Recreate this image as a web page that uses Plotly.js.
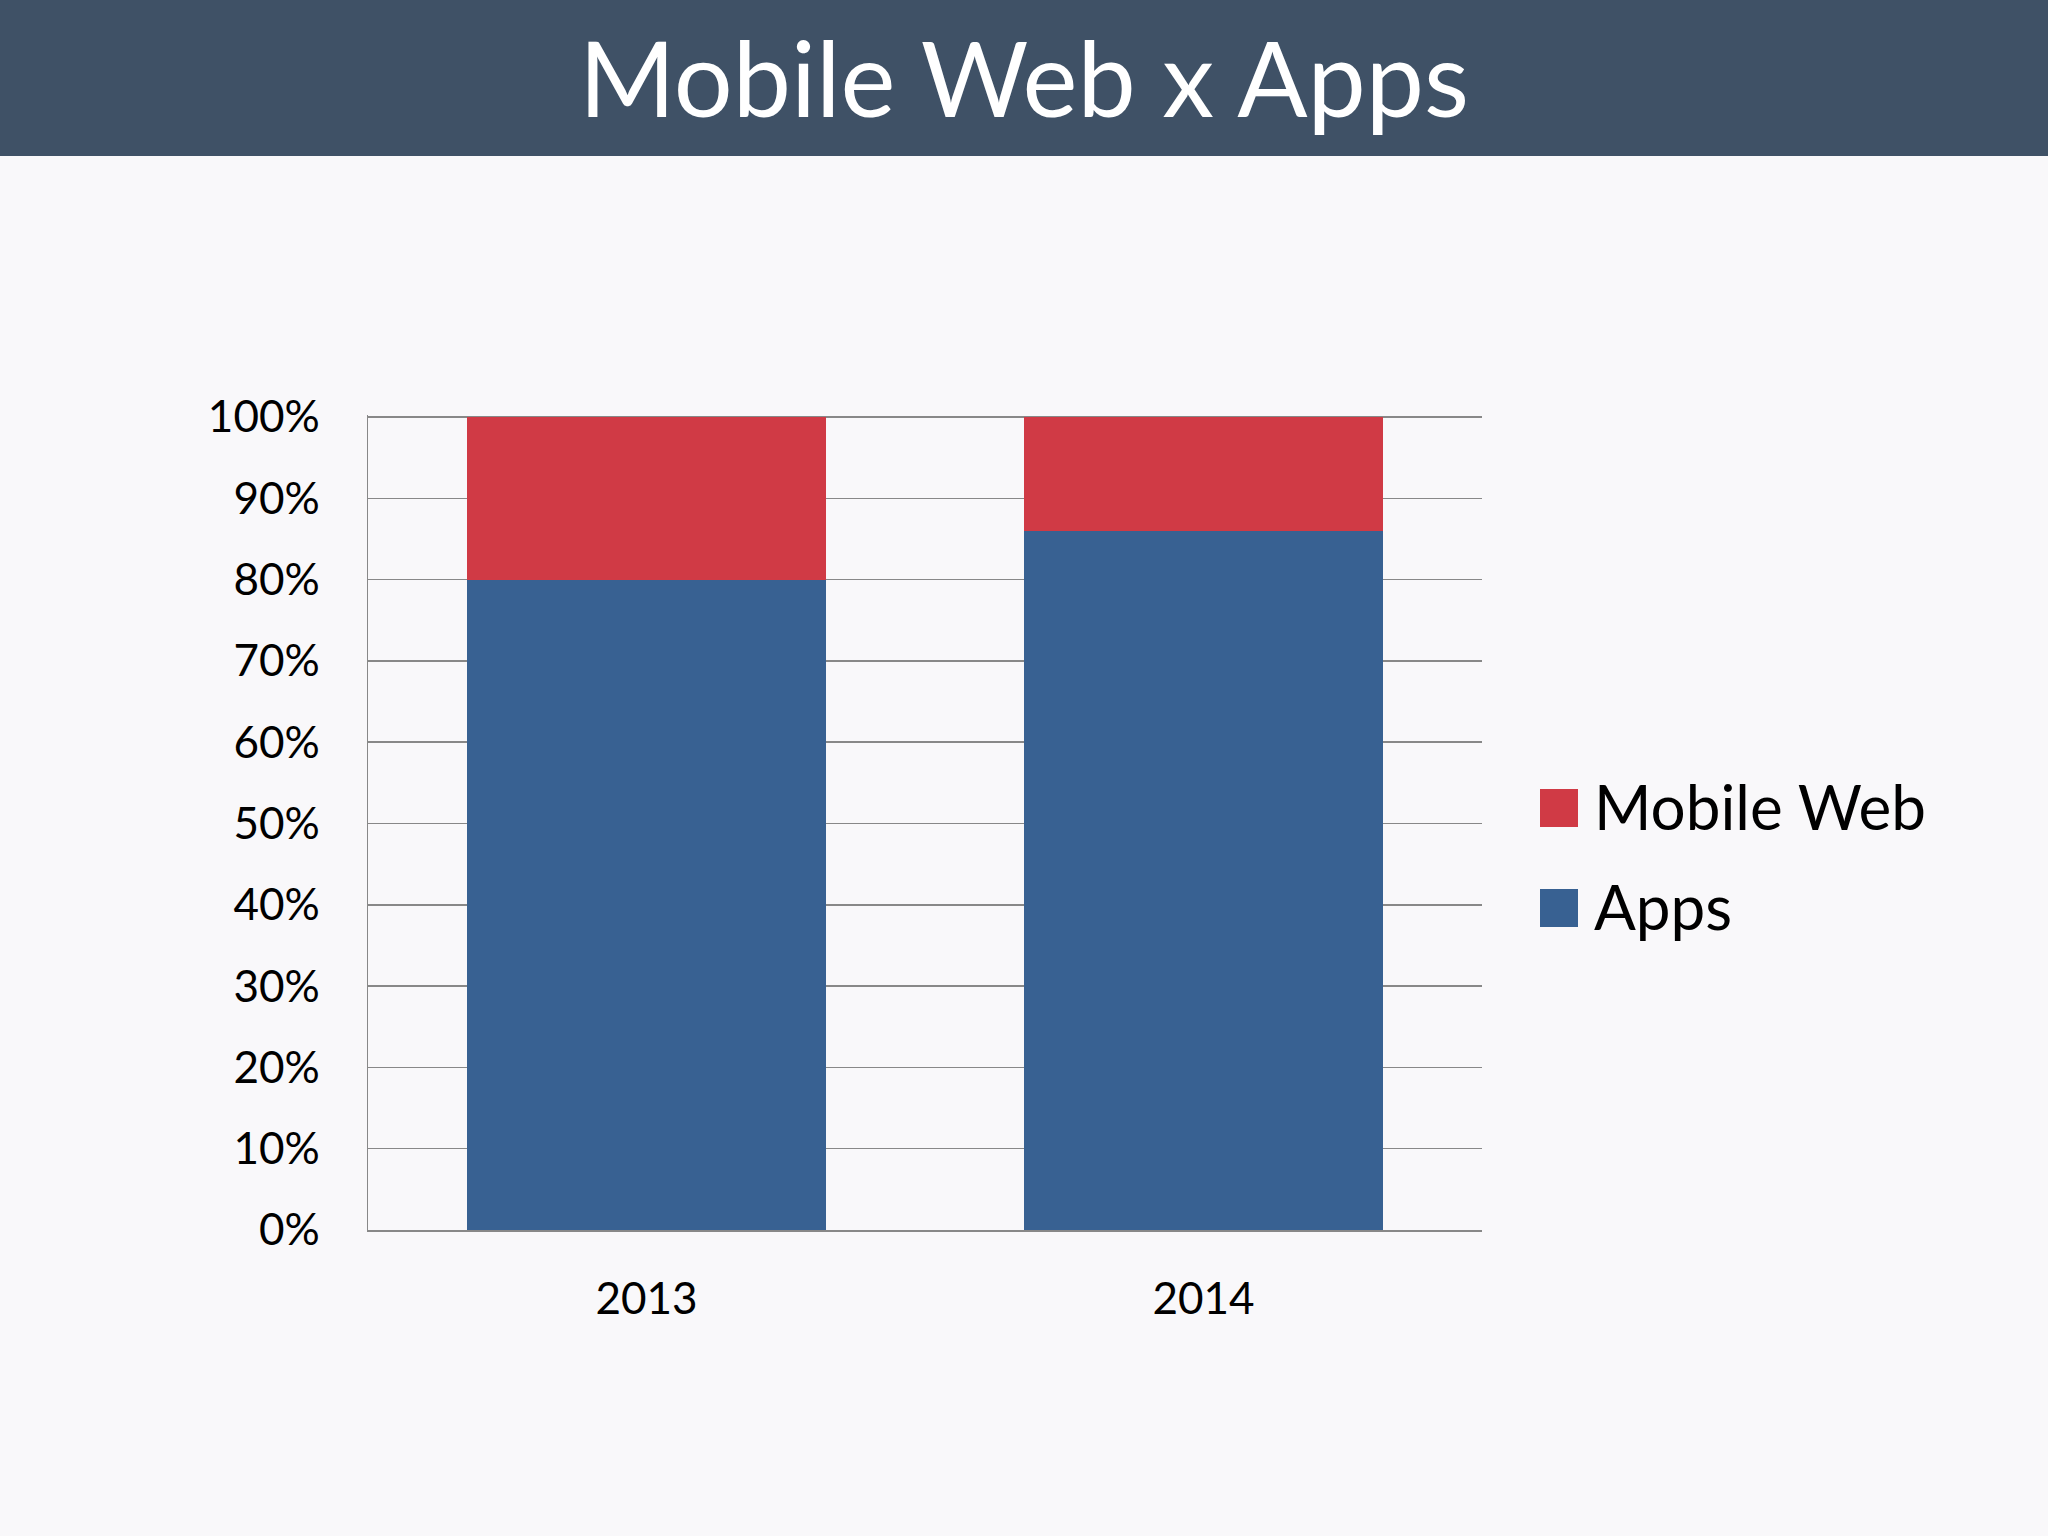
<!DOCTYPE html>
<html>
<head>
<meta charset="utf-8">
<script src="https://cdn.plot.ly/plotly-3.0.1.min.js"></script>
<style>
  html, body { margin: 0; padding: 0; background: #F9F8FA; }
  #chart { width: 2048px; height: 1536px; }
</style>
</head>
<body>
<div id="chart"></div>
<script>
// ---- data ----
const chartTitle = "Mobile Web x Apps";
const years = ["2013", "2014"];
const seriesNames = ["Mobile Web", "Apps"];
const mobileWeb = [20, 14];
const apps = [80, 86];
const seriesColors = ["#D03A45", "#386192"];

// ---- layout helpers (pixel -> paper) ----
const W = 2048, H = 1536;
const M = { l: 368, r: 566, t: 415, b: 306 };
const PW = W - M.l - M.r, PH = H - M.t - M.b;
const px = x => (x - M.l) / PW;
const py = y => (H - M.b - y) / PH;

const FONT = "Lato, 'Open Sans', sans-serif";

const traces = [
  { type: "bar", name: seriesNames[1], x: years, y: apps,
    marker: { color: seriesColors[1] }, showlegend: false, hoverinfo: "skip" },
  { type: "bar", name: seriesNames[0], x: years, y: mobileWeb,
    marker: { color: seriesColors[0] }, showlegend: false, hoverinfo: "skip" }
];

// custom legend (large swatches)
const legendRows = [
  { name: seriesNames[0], color: seriesColors[0], top: 789 },
  { name: seriesNames[1], color: seriesColors[1], top: 889 }
];
const shapes = [
  { type: "rect", xref: "paper", yref: "paper", layer: "below",
    x0: px(0), x1: px(W), y0: py(156), y1: py(0),
    fillcolor: "#3F5166", line: { width: 0 } }
];
const annotations = [];
legendRows.forEach(r => {
  shapes.push({ type: "rect", xref: "paper", yref: "paper",
    x0: px(1540), x1: px(1578), y0: py(r.top + 38), y1: py(r.top),
    fillcolor: r.color, line: { width: 0 } });
  annotations.push({ xref: "paper", yref: "paper", x: px(1592), y: py(r.top + 17),
    xanchor: "left", yanchor: "middle", showarrow: false, text: r.name,
    font: { family: FONT, size: 62, color: "#000000" } });
});

const layout = {
  width: W, height: H,
  margin: M,
  paper_bgcolor: "#F9F8FA",
  plot_bgcolor: "#F9F8FA",
  barmode: "stack",
  bargap: 0.355,
  showlegend: false,
  title: { text: chartTitle, x: 0.5, xanchor: "center", xref: "container",
           y: 1 - 81 / H, yanchor: "middle", yref: "container",
           font: { family: FONT, size: 104, color: "#FFFFFF" } },
  xaxis: {
    type: "category",
    showgrid: false, zeroline: false,
    showline: true, linecolor: "#888888", linewidth: 1.5,
    ticks: "", ticklabelstandoff: 30,
    tickfont: { family: FONT, size: 44, color: "#000000" },
    fixedrange: true
  },
  yaxis: {
    range: [0, 100.25], dtick: 10, tick0: 0, ticksuffix: "%",
    showgrid: true, gridcolor: "#888888", gridwidth: 1.5,
    zeroline: false,
    showline: true, linecolor: "#888888", linewidth: 1.5,
    ticks: "", ticklabelstandoff: 38,
    tickfont: { family: FONT, size: 44, color: "#000000" },
    fixedrange: true
  },
  shapes: shapes,
  annotations: annotations,
  font: { family: FONT }
};

Plotly.newPlot("chart", traces, layout, { staticPlot: true, displayModeBar: false });
</script>
</body>
</html>
